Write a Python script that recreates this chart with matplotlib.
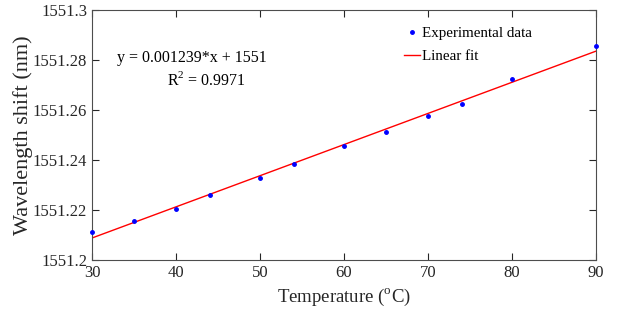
import numpy as np
import matplotlib
matplotlib.use('Agg')
import matplotlib.pyplot as plt

plt.rcParams['font.family'] = ['Liberation Serif', 'DejaVu Serif']
plt.rcParams['mathtext.fontset'] = 'custom'
plt.rcParams['mathtext.rm'] = 'Liberation Serif'

temperature = [30, 35, 40, 44, 50, 54, 60, 65, 70, 74, 80, 90]
wavelength = [1551.2112, 1551.2156, 1551.2204, 1551.2260, 1551.2328, 1551.2384,
              1551.2456, 1551.2512, 1551.2576, 1551.2624, 1551.2724, 1551.2856]
x_ticks = [30, 40, 50, 60, 70, 80, 90]
y_ticks = [1551.2, 1551.22, 1551.24, 1551.26, 1551.28, 1551.3]
y_tick_labels = ['1551.2', '1551.22', '1551.24', '1551.26', '1551.28', '1551.3']

slope, intercept = np.polyfit(temperature, wavelength, 1)
fit_x = np.array([30, 90])
fit_y = slope * fit_x + intercept

fig = plt.figure(figsize=(6.2, 3.24), dpi=100)
ax = fig.add_axes([92/620, 1 - 260/324, (596-92)/620, 250/324])

ax.plot(temperature, wavelength, '.', color='blue', markersize=5, label='Experimental data', clip_on=False, zorder=3)
ax.plot(fit_x, fit_y, '-', color='red', linewidth=1, label='Linear fit')

ax.set_xlim(30, 90)
ax.set_ylim(1551.2, 1551.3)
ax.set_xticks(x_ticks)
ax.set_yticks(y_ticks)
ax.set_yticklabels(y_tick_labels)
ax.tick_params(direction='in', top=True, right=True, length=5, labelsize=12, colors='#262626', width=0.8)
for s in ax.spines.values():
    s.set_color('#4d4d4d')
    s.set_linewidth(0.8)

ax.set_xlabel('Temperature ($^{\\mathrm{o}}$C)', fontsize=13.5, color='#262626')
ax.set_ylabel('Wavelength shift (nm)', fontsize=16, color='#262626', labelpad=0)

ax.text(0.198, 0.81, 'y = 0.001239*x + 1551', transform=ax.transAxes, ha='center', va='center', fontsize=11.5)
ax.text(0.228, 0.72, 'R$^2$ = 0.9971', transform=ax.transAxes, ha='center', va='center', fontsize=11.5)

leg = ax.legend(loc='upper left', frameon=False, fontsize=10.8, handlelength=1.1,
                handletextpad=0.1, borderaxespad=0, borderpad=0, labelspacing=0.65,
                bbox_to_anchor=(0.619, 0.933))

plt.savefig('out.png', dpi=100)
